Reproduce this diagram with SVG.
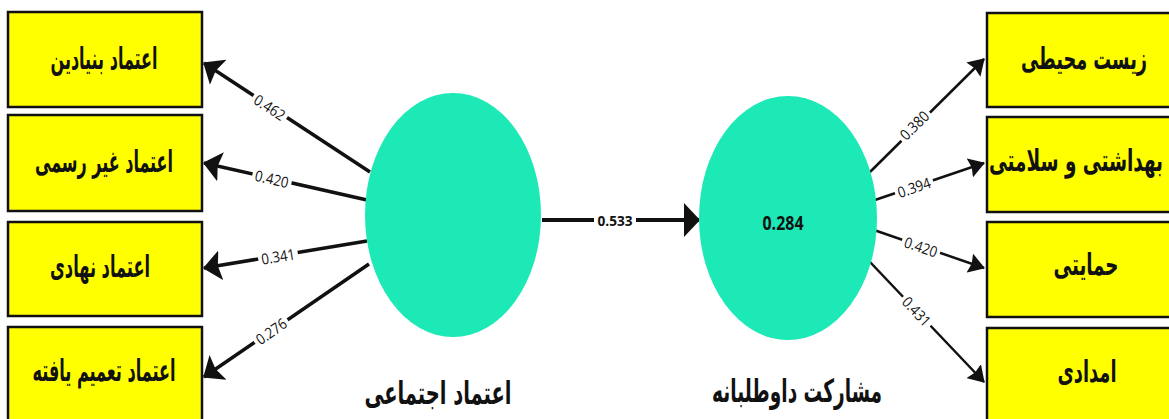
<svg xmlns="http://www.w3.org/2000/svg" width="1169" height="419" viewBox="0 0 1169 419">
<style>
.box{fill:#FFFF00;stroke:#111;stroke-width:2.5}
.lv{fill:#1DE9B6}
.bt{font-family:"DejaVu Sans",sans-serif;font-weight:bold;font-size:30px;fill:#111;text-anchor:middle;direction:rtl}
.lt{font-family:"DejaVu Sans",sans-serif;font-weight:bold;font-size:32px;fill:#111;text-anchor:middle;direction:rtl}
.num{font-family:"Open Sans",sans-serif;font-size:15px;fill:#111;text-anchor:middle;dominant-baseline:central}
.numb{font-family:"Open Sans",sans-serif;font-weight:bold;font-size:15px;fill:#111;text-anchor:middle;dominant-baseline:central}
.big{font-size:20px}
.bg{fill:#fff}
.ln{stroke:#111;fill:none}
</style>
<defs>
<marker id="ahL" markerUnits="userSpaceOnUse" markerWidth="18" markerHeight="30" refX="17" refY="15" orient="auto" viewBox="0 0 18 30">
<path d="M0,0 L18,15 L0,30 L3,15 z" fill="#111"/>
</marker>
<marker id="ahR" markerUnits="userSpaceOnUse" markerWidth="16" markerHeight="20" refX="15" refY="10" orient="auto" viewBox="0 0 16 20">
<path d="M0,0 L16,10 L0,20 L2,10 z" fill="#111"/>
</marker>
<marker id="ahM" markerUnits="userSpaceOnUse" markerWidth="16" markerHeight="34" refX="15" refY="17" orient="auto" viewBox="0 0 16 34">
<path d="M0,0 L16,17 L0,34 z" fill="#111"/>
</marker>
</defs>
<rect width="1169" height="419" fill="#fff"/>

<g id="connectors">
<line class="ln" stroke-width="3.5" x1="370" y1="172" x2="204" y2="63" marker-end="url(#ahL)"/>
<line class="ln" stroke-width="3.5" x1="367" y1="200" x2="204" y2="163" marker-end="url(#ahL)"/>
<line class="ln" stroke-width="3.5" x1="367" y1="241" x2="204" y2="268" marker-end="url(#ahL)"/>
<line class="ln" stroke-width="3.5" x1="369" y1="264" x2="204" y2="377" marker-end="url(#ahL)"/>
<line class="ln" stroke-width="4" x1="542" y1="220" x2="699" y2="220" marker-end="url(#ahM)"/>
<line class="ln" stroke-width="2.5" x1="870" y1="172" x2="984" y2="59" marker-end="url(#ahR)"/>
<line class="ln" stroke-width="2.5" x1="875" y1="200" x2="984" y2="163" marker-end="url(#ahR)"/>
<line class="ln" stroke-width="2.5" x1="874" y1="230" x2="984" y2="268" marker-end="url(#ahR)"/>
<line class="ln" stroke-width="2.5" x1="870" y1="262" x2="984" y2="382" marker-end="url(#ahR)"/>
<g transform="translate(270,107) rotate(33)"><rect class="bg" x="-20" y="-8" width="40" height="16"/><text class="num" textLength="34" lengthAdjust="spacingAndGlyphs">0.462</text></g>
<g transform="translate(272,178.5) rotate(12.7)"><rect class="bg" x="-20" y="-8" width="40" height="16"/><text class="num" textLength="34" lengthAdjust="spacingAndGlyphs">0.420</text></g>
<g transform="translate(278,256) rotate(-9.3)"><rect class="bg" x="-20" y="-8" width="40" height="16"/><text class="num" textLength="34" lengthAdjust="spacingAndGlyphs">0.341</text></g>
<g transform="translate(271,331) rotate(-34.6)"><rect class="bg" x="-20" y="-8" width="40" height="16"/><text class="num" textLength="34" lengthAdjust="spacingAndGlyphs">0.276</text></g>
<g transform="translate(615,220)"><rect class="bg" x="-21" y="-8" width="42" height="16"/><text class="numb" textLength="35" lengthAdjust="spacingAndGlyphs">0.533</text></g>
<g transform="translate(914,125) rotate(-44.7)"><rect class="bg" x="-20" y="-8" width="40" height="16"/><text class="num" textLength="34" lengthAdjust="spacingAndGlyphs">0.380</text></g>
<g transform="translate(914,187) rotate(-18.9)"><rect class="bg" x="-20" y="-8" width="40" height="16"/><text class="num" textLength="34" lengthAdjust="spacingAndGlyphs">0.394</text></g>
<g transform="translate(921,246.5) rotate(19)"><rect class="bg" x="-20" y="-8" width="40" height="16"/><text class="num" textLength="34" lengthAdjust="spacingAndGlyphs">0.420</text></g>
<g transform="translate(917,311) rotate(46.7)"><rect class="bg" x="-20" y="-8" width="40" height="16"/><text class="num" textLength="34" lengthAdjust="spacingAndGlyphs">0.431</text></g>
</g>

<g id="n-l1"><rect class="box" x="8" y="12" width="194" height="95"/><text class="bt" x="104" y="69" textLength="107" lengthAdjust="spacingAndGlyphs">اعتماد بنیادین</text></g>
<g id="n-l2"><rect class="box" x="8" y="115" width="194" height="96"/><text class="bt" x="104" y="172" textLength="138" lengthAdjust="spacingAndGlyphs">اعتماد غیر رسمی</text></g>
<g id="n-l3"><rect class="box" x="8" y="222" width="194" height="94"/><text class="bt" x="100" y="277" textLength="100" lengthAdjust="spacingAndGlyphs">اعتماد نهادی</text></g>
<g id="n-l4"><rect class="box" x="8" y="327" width="194" height="100"/><text class="bt" x="104" y="381" textLength="143" lengthAdjust="spacingAndGlyphs">اعتماد تعمیم یافته</text></g>

<g id="n-r1"><rect class="box" x="987" y="13" width="200" height="94"/><text class="bt" x="1084" y="69" textLength="126" lengthAdjust="spacingAndGlyphs">زیست محیطی</text></g>
<g id="n-r2"><rect class="box" x="987" y="117" width="200" height="95"/><text class="bt" x="1076" y="171" textLength="174" lengthAdjust="spacingAndGlyphs">بهداشتی و سلامتی</text></g>
<g id="n-r3"><rect class="box" x="987" y="222" width="200" height="95"/><text class="bt" x="1086" y="275" textLength="65" lengthAdjust="spacingAndGlyphs">حمایتی</text></g>
<g id="n-r4"><rect class="box" x="987" y="328" width="200" height="100"/><text class="bt" x="1087" y="382" textLength="59" lengthAdjust="spacingAndGlyphs">امدادی</text></g>

<g id="n-social-trust"><ellipse class="lv" cx="453" cy="215" rx="88" ry="122"/><text class="lt" x="438" y="404" textLength="147" lengthAdjust="spacingAndGlyphs">اعتماد اجتماعی</text></g>
<g id="n-volunteer"><ellipse class="lv" cx="788" cy="218" rx="89" ry="122"/><text class="numb big" x="783" y="222" textLength="41" lengthAdjust="spacingAndGlyphs">0.284</text><text class="lt" x="797" y="402" textLength="170" lengthAdjust="spacingAndGlyphs">مشارکت داوطلبانه</text></g>
</svg>
